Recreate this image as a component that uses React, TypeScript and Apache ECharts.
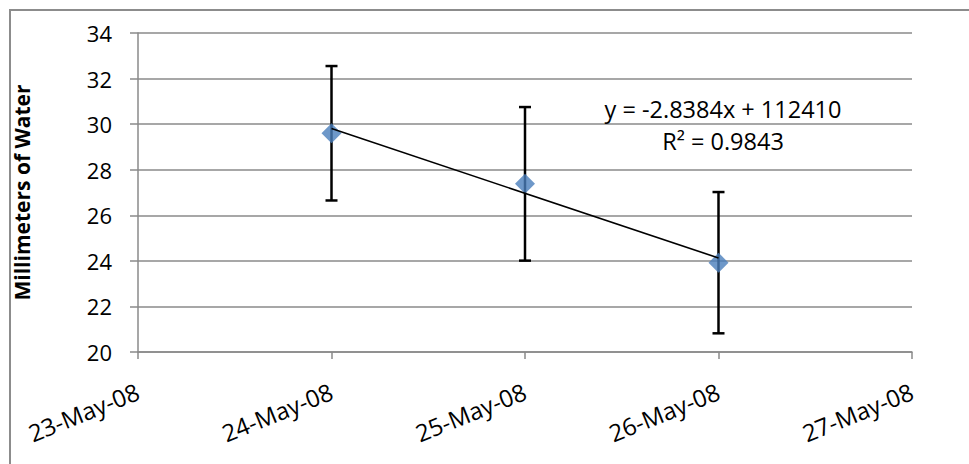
import React, { useEffect, useRef } from "react";
import * as echarts from "echarts";

// Excel serial day numbers: 39591 = 23-May-08
const xStart = 39591;
const xEnd = 39595;
const tickLabels = ["23-May-08", "24-May-08", "25-May-08", "26-May-08", "27-May-08"];
const dates = [39592, 39593, 39594];
const values = [29.6, 27.38, 23.92];
const errors = [2.95, 3.37, 3.1];
const yMin = 20;
const yMax = 34;
const yStep = 2;
const equationText = "y = -2.8384x + 112410";
const r2Text = "R² = 0.9843";
const yAxisTitle = "Millimeters of Water";

function linearFit(xs: number[], ys: number[]) {
  const n = xs.length;
  const mx = xs.reduce((a, b) => a + b, 0) / n;
  const my = ys.reduce((a, b) => a + b, 0) / n;
  let sxy = 0;
  let sxx = 0;
  for (let i = 0; i < n; i++) {
    sxy += (xs[i] - mx) * (ys[i] - my);
    sxx += (xs[i] - mx) * (xs[i] - mx);
  }
  const slope = sxy / sxx;
  const intercept = my - slope * mx;
  return { slope, intercept };
}

const FONT = "'Open Sans', 'Noto Sans', sans-serif";
const GRID_GRAY = "#8a8a8a";

export default function App() {
  const ref = useRef<HTMLDivElement | null>(null);

  useEffect(() => {
    if (!ref.current) return;
    const chart = echarts.init(ref.current, undefined, { renderer: "svg" });
    const fit = linearFit(dates, values);
    const x0 = Math.min(...dates);
    const x1 = Math.max(...dates);
    const trend = [
      [x0, fit.slope * x0 + fit.intercept],
      [x1, fit.slope * x1 + fit.intercept],
    ];

    const option: any = {
      animation: false,
      backgroundColor: "#ffffff",
      grid: { left: 138, right: 57, top: 33, bottom: 112, containLabel: false },
      xAxis: {
        type: "value",
        min: xStart,
        max: xEnd,
        interval: 1,
        axisLine: { show: true, onZero: false, lineStyle: { color: GRID_GRAY, width: 1.5 } },
        axisTick: { show: true, length: 7, inside: false, lineStyle: { color: GRID_GRAY, width: 1.5 } },
        splitLine: { show: false },
        axisLabel: {
          rotate: 22,
          margin: 38,
          color: "#000",
          fontFamily: FONT,
          fontSize: 24,
          formatter: (v: number) => tickLabels[Math.round(v - xStart)] ?? "",
        },
      },
      yAxis: {
        type: "value",
        min: yMin,
        max: yMax,
        interval: yStep,
        name: yAxisTitle,
        nameLocation: "middle",
        nameGap: 106,
        nameRotate: 90,
        nameTextStyle: { color: "#000", fontFamily: FONT, fontSize: 21, fontWeight: "bold" },
        axisLine: { show: true, lineStyle: { color: GRID_GRAY, width: 1.5 } },
        axisTick: { show: true, length: 8, inside: false, lineStyle: { color: GRID_GRAY, width: 1.5 } },
        splitLine: { show: true, lineStyle: { color: GRID_GRAY, width: 1.5 } },
        axisLabel: { margin: 26, color: "#000", fontFamily: FONT, fontSize: 22 },
      },
      graphic: [
        {
          type: "rect",
          shape: { x: 10, y: 10, width: 1100, height: 600 },
          style: { fill: "none", stroke: "#8c8c8c", lineWidth: 2 },
          silent: true,
          z: 0,
        },
        {
          type: "text",
          x: 723,
          y: 109,
          style: {
            text: equationText,
            align: "center",
            verticalAlign: "middle",
            fill: "#000",
            font: `23.5px ${FONT}`,
          },
          z: 10,
        },
        {
          type: "text",
          x: 723,
          y: 141,
          style: {
            text: r2Text,
            align: "center",
            verticalAlign: "middle",
            fill: "#000",
            font: `23.5px ${FONT}`,
          },
          z: 10,
        },
      ],
      series: [
        {
          type: "custom",
          z: 2,
          data: dates.map((d, i) => [d, values[i], errors[i]]),
          renderItem: (params: any, api: any) => {
            const x = api.value(0);
            const y = api.value(1);
            const e = api.value(2);
            const top = api.coord([x, y + e]);
            const bot = api.coord([x, y - e]);
            const hw = 6;
            const st = { stroke: "#000", lineWidth: 2.5 };
            return {
              type: "group",
              children: [
                { type: "line", shape: { x1: top[0], y1: top[1], x2: bot[0], y2: bot[1] }, style: st },
                { type: "line", shape: { x1: top[0] - hw, y1: top[1], x2: top[0] + hw, y2: top[1] }, style: st },
                { type: "line", shape: { x1: bot[0] - hw, y1: bot[1], x2: bot[0] + hw, y2: bot[1] }, style: st },
              ],
            };
          },
        },
        {
          type: "scatter",
          z: 3,
          symbol: "diamond",
          symbolSize: 20,
          itemStyle: { color: "#4A7EBB" },
          data: dates.map((d, i) => [d, values[i]]),
        },
        {
          type: "line",
          z: 4,
          showSymbol: false,
          symbol: "none",
          lineStyle: { color: "#000", width: 1.6 },
          data: trend,
        },
      ],
    };
    chart.setOption(option);
    return () => chart.dispose();
  }, []);

  return (
    <div
      ref={ref}
      style={{ position: "fixed", left: 0, top: 0, width: 969, height: 464, background: "#fff" }}
    />
  );
}
